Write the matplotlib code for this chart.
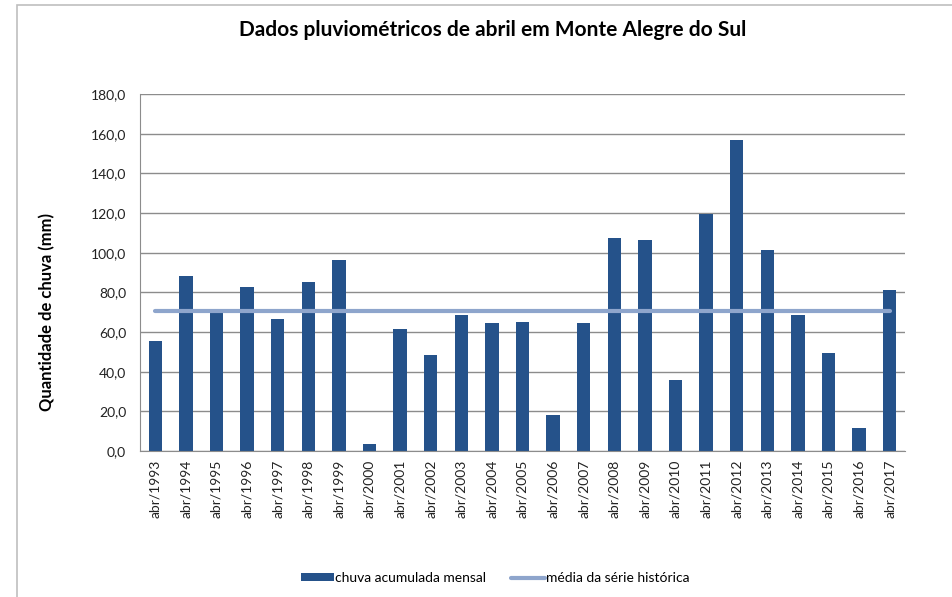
import numpy as np
import matplotlib.pyplot as plt
from matplotlib.patches import Rectangle
from matplotlib.ticker import FuncFormatter

plt.rcParams['font.family'] = ['Lato', 'DejaVu Sans']

# data
anos = ['abr/%d' % a for a in range(1993, 2018)]
chuva = [55.6, 88.2, 69.7, 82.6, 66.5, 85.1, 96.2, 3.5, 61.5, 48.4,
         68.5, 64.5, 65.0, 18.1, 64.5, 107.3, 106.3, 35.8, 119.4, 156.7,
         101.3, 68.5, 49.4, 11.6, 81.1]
media = [70.7] * len(anos)

cor_barra = '#25528a'
cor_media = '#8ea5cc'

fig = plt.figure(figsize=[9.52, 5.97], dpi=100)
# outer chart frame (continues past the right/bottom edge)
fig.patches.append(Rectangle((17 / 952, -0.1), 1.1, 0.1 + (597 - 5) / 597,
                             transform=fig.transFigure, fill=False,
                             edgecolor='#bfbfbf', linewidth=1.2))

ax = fig.add_axes([140 / 952, 1 - 451 / 597, 765 / 952, 357 / 597])
x = np.arange(len(anos))
barras = ax.bar(x, chuva, width=0.44, color=cor_barra, zorder=2)
linha, = ax.plot(x, media, color=cor_media, linewidth=3, solid_capstyle='round', zorder=3)

ax.set_xlim(-0.5, len(anos) - 0.5)
ax.set_ylim(0, 180)
ax.set_yticks(np.arange(0, 181, 20))
ax.yaxis.set_major_formatter(FuncFormatter(lambda v, p: ('%.1f' % v).replace('.', ',')))
ax.set_xticks(x)
ax.set_xticklabels(anos, rotation=90, fontsize=10, color='#222222')
ax.tick_params(axis='y', length=0, labelsize=10, pad=10, labelcolor='#222222')
ax.tick_params(axis='x', length=0, pad=6)
ax.grid(axis='y', color='#8c8c8c', linewidth=1, zorder=0)
for s in ['top', 'right']:
    ax.spines[s].set_visible(False)
for s in ['left', 'bottom']:
    ax.spines[s].set_color('#8c8c8c')

fig.text(47 / 952, 1 - 312 / 597, 'Quantidade de chuva (mm)', rotation=90,
         ha='center', va='center', fontsize=12, fontweight='bold')
fig.text(493 / 952, 1 - 30 / 597, 'Dados pluviométricos de abril em Monte Alegre do Sul',
         ha='center', va='center', fontsize=15, fontweight='bold')

fig.legend([barras, linha], ['chuva acumulada mensal', 'média da série histórica'],
           loc='center', bbox_to_anchor=(495 / 952, 1 - 578 / 597), ncol=2,
           frameon=False, fontsize=10, handlelength=2.4, handleheight=0.5,
           handletextpad=0.1, columnspacing=1.8)

fig.savefig('out.png', dpi=100)
